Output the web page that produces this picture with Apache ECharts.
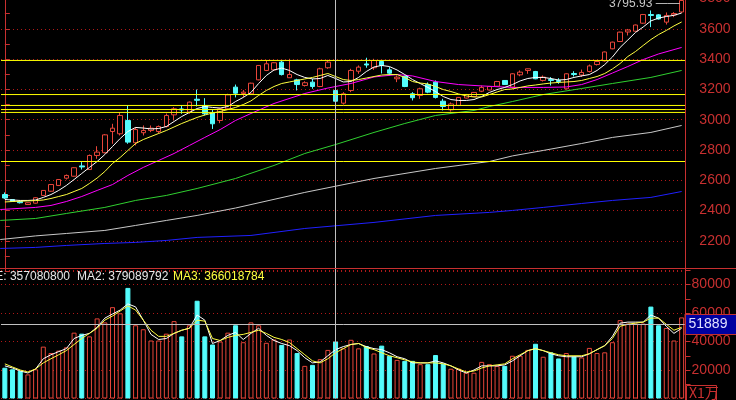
<!DOCTYPE html>
<html><head><meta charset="utf-8">
<script src="https://cdn.jsdelivr.net/npm/echarts@6/dist/echarts.min.js"></script>
<style>html,body{margin:0;padding:0;background:#000;overflow:hidden}#c{width:736px;height:400px}</style>
</head><body><div id="c"></div>
<script>
// ---------- data ----------
const openP  = [2506,2473,2460,2440,2449,2500,2528,2566,2614,2627, 2695,2671,2764,2782,2922,2907,2995,2848,2914,2929, 2922,2955,3032,3071,3050,3135,3094,3046,2995,3072, 3215,3173,3171,3263,3325,3329,3380,3277,3263,3226, 3248,3219,3343,3193,3109,3193,3320,3368,3343,3384, 3329,3270,3285,3171,3160,3232,3248,3122,3065,3094, 3143,3153,3188,3196,3221,3259,3215,3296,3325,3318, 3259,3265,3259,3204,3305,3295,3318,3364,3388,3468, 3516,3579,3584,3637,3694,3692,3644,3691,3711];
const closeP = [2483,2460,2452,2452,2485,2533,2572,2605,2632,2683, 2688,2764,2786,2900,2944,3028,2852,2935,2929,2944, 2955,3028,3072,3064,3116,3128,3039,2973,3072,3164, 3175,3182,3241,3358,3369,3376,3298,3298,3232,3244, 3219,3336,3380,3122,3171,3325,3347,3361,3391,3358, 3307,3281,3219,3145,3204,3182,3147,3087,3104,3147, 3166,3180,3213,3219,3252,3232,3303,3314,3336,3270, 3281,3259,3252,3303,3298,3312,3355,3384,3447,3512, 3578,3592,3625,3694,3688,3665,3688,3701,3787];
const lowP   = [2477,2457,2447,2438,2446,2497,2525,2562,2605,2624, 2671,2668,2742,2778,2841,2896,2841,2830,2896,2918, 2909,2949,2995,3039,3039,3087,3028,2939,2977,3068, 3147,3149,3168,3260,3321,3326,3292,3276,3193,3219, 3204,3215,3336,3120,3100,3182,3303,3343,3329,3305, 3292,3248,3215,3127,3138,3175,3140,3061,3054,3090, 3140,3150,3182,3193,3218,3229,3204,3287,3303,3267, 3252,3226,3237,3199,3285,3282,3312,3358,3384,3465, 3513,3556,3580,3633,3611,3661,3628,3677,3705];
const highP  = [2520,2476,2470,2454,2488,2535,2575,2608,2638,2686, 2720,2770,2825,2905,2973,3050,3094,2951,2962,2962, 2962,3041,3083,3094,3120,3199,3142,3067,3075,3171, 3232,3196,3244,3361,3391,3379,3391,3402,3270,3254, 3270,3343,3395,3199,3182,3336,3358,3409,3402,3391, 3347,3292,3292,3182,3211,3246,3259,3138,3114,3150, 3170,3183,3226,3223,3256,3262,3307,3325,3337,3322, 3292,3281,3274,3306,3320,3331,3364,3391,3450,3515, 3581,3599,3628,3698,3721,3697,3708,3710,3795.93];
const volume = [21600,20500,19300,16900,20500,36400,31900,33600,35900,46200, 45500,43600,56200,53400,64100,59800,77600,51400,48600,40700, 40700,45500,54300,43600,51400,68600,43600,37900,40000,46200, 51400,39500,53400,51400,39100,41400,37600,41400,31900,22900, 23600,27600,34100,40000,35200,41200,35200,36800,31600,37100, 30000,27100,26400,26400,24100,24100,30500,24500,20900,20900, 18100,18100,25700,24100,22900,22900,30000,30000,34100,38400, 29300,32400,28100,31900,29500,28800,35500,31900,32400,39500, 55000,52600,52600,52600,64500,51400,49500,40700,56900];
const ma5  = [2473,2470,2467,2467,2470,2487,2506,2533,2566,2605, 2645,2685,2724,2770,2823,2876,2922,2949,2945,2939, 2942,2955,2988,3021,3048,3074,3087,3081,3077,3087, 3120,3147,3180,3239,3292,3328,3341,3325,3298,3279, 3269,3272,3292,3272,3249,3252,3279,3318,3348,3358, 3351,3328,3298,3265,3239,3213,3186,3153,3133,3127, 3127,3133,3153,3180,3199,3213,3232,3256,3272,3279, 3279,3272,3262,3265,3279,3289,3298,3325,3364,3414, 3477,3526,3576,3612,3652,3671,3681,3689,3704];
const ma10 = [2457,2460,2462,2464,2466,2470,2480,2493,2506,2526, 2546,2579,2615,2658,2711,2751,2797,2843,2869,2889, 2909,2929,2952,2975,2995,3015,3031,3044,3054,3067, 3081,3100,3124,3160,3193,3219,3239,3249,3259,3269, 3279,3292,3305,3285,3265,3259,3265,3275,3285,3295, 3298,3298,3279,3252,3242,3236,3219,3199,3186,3170, 3157,3150,3150,3166,3183,3199,3203,3213,3223,3229, 3236,3242,3246,3249,3252,3259,3272,3285,3305,3335, 3371,3417,3450,3490,3529,3562,3589,3619,3645];
// longer averages: [candle index, value] read at intervals
const ma20  = [[-0.6,2407],[4,2421],[6,2434],[8,2460],[10,2493],[12,2533],[14,2572],[16,2632],[18,2685],[20,2731],[22,2777],[24,2830],[26,2883],[28,2935],[30,2995],[32,3041],[35,3107],[39,3173],[42,3209],[45,3239],[48,3282],[51,3298],[53,3289],[56,3252],[59,3232],[62,3223],[66,3213],[70,3213],[73,3216],[75,3232],[77,3265],[79,3308],[81,3351],[83,3397],[85,3434],[88,3477]];
const ma60  = [[-0.6,2335],[4,2348],[8,2381],[13,2421],[17,2467],[21,2500],[25,2546],[30,2612],[35,2698],[39,2777],[43,2836],[48,2916],[52,2975],[56,3028],[61,3061],[63,3087],[66,3120],[70,3166],[75,3206],[79,3239],[84,3279],[88,3325]];
const ma120 = [[-0.6,2209],[4,2233],[8,2249],[13,2269],[17,2302],[21,2335],[25,2368],[30,2417],[39,2520],[48,2612],[56,2678],[63,2724],[66,2761],[70,2797],[75,2843],[79,2883],[84,2916],[88,2962]];
const ma250 = [[-0.6,2150],[4,2157],[8,2170],[13,2183],[17,2190],[21,2203],[25,2223],[32,2236],[39,2282],[48,2322],[56,2368],[63,2388],[66,2401],[70,2421],[75,2447],[79,2467],[84,2487],[88,2526]];
const volMa5  = [22900,21400,19300,17900,20700,27900,30700,32900,35000,42100, 44300,45700,50000,56400,59300,62100,66400,64300,55000,45000, 41400,42100,45700,47900,49300,58600,55000,38600,40700,44300, 46400,41400,45700,49300,44300,40700,38600,37100,33600,28600, 25000,25700,30000,34300,36400,37900,38600,36400,35000,34300, 32100,29300,27900,25000,25000,25000,26400,25000,22900,20000, 17900,20000,22900,22900,22900,23600,26400,30000,33600,35000, 33600,31400,30000,29300,29300,29300,31400,34300,37100,43600, 52900,53600,53600,53600,58600,56400,50700,45700,49300];
const volMa10 = [24300,22100,20000,18600,20700,25000,27900,30700,33600,37900, 42100,45700,49300,55000,57900,61400,65000,62100,55000,47900, 43600,43600,45700,47900,49300,55000,54300,42100,40700,42900, 44300,45000,46400,47900,45700,42900,41400,39300,35000,30700, 26400,25000,27900,32100,35000,37900,38600,35700,34300,32100, 30000,28600,27100,25700,25000,25000,25000,24300,22900,20700, 18600,19300,21400,22900,23600,24300,27900,30700,33600,35000, 33600,32100,30700,30000,30000,30000,31400,34300,37100,42100, 50700,52100,52900,53600,56400,56400,52100,47900,50000];
const levels = [3391, 3166, 3094, 3067, 3048, 2724];
const crossIndex = 43;
const crossVolume = 51889;
const priceTicks = {min: 2000, max: 3800, step: 200};
const volTicks = {min: 0, max: 90000, step: 20000};
const volTexts = ['VOLUME: 357080800', 'MA2: 379089792', 'MA3: 366018784'];
const unitText = 'X1万';

// ---------- chart ----------
const N = openP.length;
const categories = openP.map((_, i) => String(i + 1));
const RED = '#e8463a', CYAN = '#54fcfc', AXR = '#c83030', GRIDR = '#b01818';
const candles = openP.map((o, i) => [o, closeP[i], lowP[i], highP[i]]);
const volData = volume.map((v, i) => closeP[i] >= openP[i]
  ? {value: v, itemStyle: {color: '#000', borderColor: RED, borderWidth: 1}}
  : {value: v, itemStyle: {color: CYAN, borderColor: CYAN, borderWidth: 1}});

const chart = echarts.init(document.getElementById('c'), null, {renderer: 'canvas'});
const lineS = (name, data, color, xi, yi, z) => ({
  name, type: 'line', data, xAxisIndex: xi, yAxisIndex: yi, symbol: 'none', smooth: false,
  lineStyle: {color, width: 1, opacity: 1}, itemStyle: {color}, z: z || 3, silent: true, animation: false,
  emphasis: {disabled: true}
});
const FONT = '"Liberation Sans Narrow", "Liberation Sans", Arial, sans-serif';
const ma5Series = lineS('MA5', ma5, '#ffffff', 0, 0, 4);
ma5Series.markLine = {silent: true, symbol: ['none', 'none'], label: {show: false}, z: 6,
  lineStyle: {color: '#c0c0c0', width: 1, type: 'solid'},
  emphasis: {disabled: true},
  data: [{xAxis: categories[crossIndex]}]};
const levelSeries = levels.map((v, k) => lineS('L' + k, [[-0.5, v], [N - 0.5, v]], '#ffff00', 2, 0, 5));
chart.setOption({
  backgroundColor: '#000',
  animation: false,
  grid: [
    {left: 1, width: 684.5, top: -1.5, height: 272.7, outerBoundsMode: 'none', containLabel: false},
    {left: 1, width: 684.5, top: 270.25, height: 128.25, outerBoundsMode: 'none', containLabel: false}
  ],
  xAxis: [
    {type: 'category', data: categories, gridIndex: 0, boundaryGap: true, show: false},
    {type: 'category', data: categories, gridIndex: 1, boundaryGap: true, show: false},
    {type: 'value', gridIndex: 0, min: -0.5, max: N - 0.5, show: false}
  ],
  yAxis: [
    {type: 'value', gridIndex: 0, position: 'right', min: priceTicks.min, max: priceTicks.max, interval: priceTicks.step,
     axisLine: {show: true, lineStyle: {color: AXR}},
     axisTick: {show: true, length: 5, lineStyle: {color: AXR}},
     minorTick: {show: true, splitNumber: 2, length: 5, lineStyle: {color: AXR}},
     splitLine: {show: true, lineStyle: {color: GRIDR, type: [1, 3]}},
     axisLabel: {color: AXR, fontSize: 14, fontFamily: FONT, align: 'right', margin: 45,
       formatter: v => (v === priceTicks.min ? '' : String(v))}},
    {type: 'value', gridIndex: 1, position: 'right', min: volTicks.min, max: volTicks.max, interval: volTicks.step,
     axisLine: {show: true, lineStyle: {color: AXR}},
     axisTick: {show: true, length: 5, lineStyle: {color: AXR}},
     minorTick: {show: true, splitNumber: 2, length: 5, lineStyle: {color: AXR}},
     splitLine: {show: true, lineStyle: {color: GRIDR, type: [1, 3]}},
     axisLabel: {color: AXR, fontSize: 14, fontFamily: FONT, align: 'right', margin: 45,
       formatter: v => (v === 0 || v % volTicks.step !== 0 ? '' : String(v))}}
  ],
  series: [
    {name: 'K', type: 'candlestick', data: candles, xAxisIndex: 0, yAxisIndex: 0, barWidth: 5, z: 2,
     itemStyle: {color: '#000', color0: CYAN, borderColor: RED, borderColor0: CYAN, borderWidth: 1},
     markPoint: {symbol: 'circle', symbolSize: 0, silent: true,
       data: [{type: 'max', valueDim: 'highest'}],
       label: {show: true, position: 'left', distance: 2, offset: [0, 5], color: '#c8c8c8', fontSize: 12,
         fontFamily: 'Liberation Sans, Arial', formatter: p => Number(p.value).toFixed(2) + ' ——'}}},
    ma5Series,
    lineS('MA10', ma10, '#ffff40', 0, 0, 4),
    lineS('MA20', ma20, '#ff00ff', 2, 0, 3),
    lineS('MA60', ma60, '#30d030', 2, 0, 3),
    lineS('MA120', ma120, '#c8c8c8', 2, 0, 3),
    lineS('MA250', ma250, '#2020ff', 2, 0, 3),
    ...levelSeries,
    {name: 'VOL', type: 'bar', data: volData, xAxisIndex: 1, yAxisIndex: 1, barWidth: 5, z: 2,
     markLine: {silent: true, symbol: ['none', 'none'], z: 5, emphasis: {disabled: true},
       lineStyle: {color: '#c0c0c0', width: 1, type: 'solid'},
       data: [
         {xAxis: categories[crossIndex], label: {show: false}},
         {yAxis: crossVolume,
          label: {show: true, position: 'end', distance: 0, formatter: String(crossVolume),
            color: '#e0e0ff', fontSize: 14, fontFamily: FONT, backgroundColor: '#0000a0',
            borderColor: '#c03030', borderWidth: 1, padding: [3, 12, 2, 3]}}
       ]}},
    lineS('VMA5', volMa5, '#ffffff', 1, 1, 4),
    lineS('VMA10', volMa10, '#ffff40', 1, 1, 4)
  ],
  graphic: [
    {type: 'line', shape: {x1: 0, y1: 268.5, x2: 736, y2: 268.5}, style: {stroke: AXR, lineWidth: 1}, z: 10, silent: true},
    {type: 'line', shape: {x1: 685.5, y1: 0, x2: 685.5, y2: 400}, style: {stroke: AXR, lineWidth: 1}, z: 10, silent: true},
    {type: 'text', x: 70, y: 277, z: 10, silent: true, style: {text: volTexts[0], fill: '#e8e8e8', font: '12px "Liberation Sans", Arial', textAlign: 'right', textVerticalAlign: 'middle'}},
    {type: 'text', x: 77, y: 277, z: 10, silent: true, style: {text: volTexts[1], fill: '#e8e8e8', font: '12px "Liberation Sans", Arial', textAlign: 'left', textVerticalAlign: 'middle'}},
    {type: 'text', x: 173, y: 277, z: 10, silent: true, style: {text: volTexts[2], fill: '#ffff40', font: '12px "Liberation Sans", Arial', textAlign: 'left', textVerticalAlign: 'middle'}},
    {type: 'rect', shape: {x: 686.5, y: 385.5, width: 30, height: 18}, style: {fill: '#000', stroke: AXR, lineWidth: 1}, z: 10, silent: true},
    {type: 'text', x: 689, y: 393, z: 11, silent: true, style: {text: unitText, fill: AXR, font: '14px "Liberation Sans Narrow", "Noto Sans CJK SC", sans-serif', textVerticalAlign: 'middle'}}
  ]
});
</script>
</body></html>
